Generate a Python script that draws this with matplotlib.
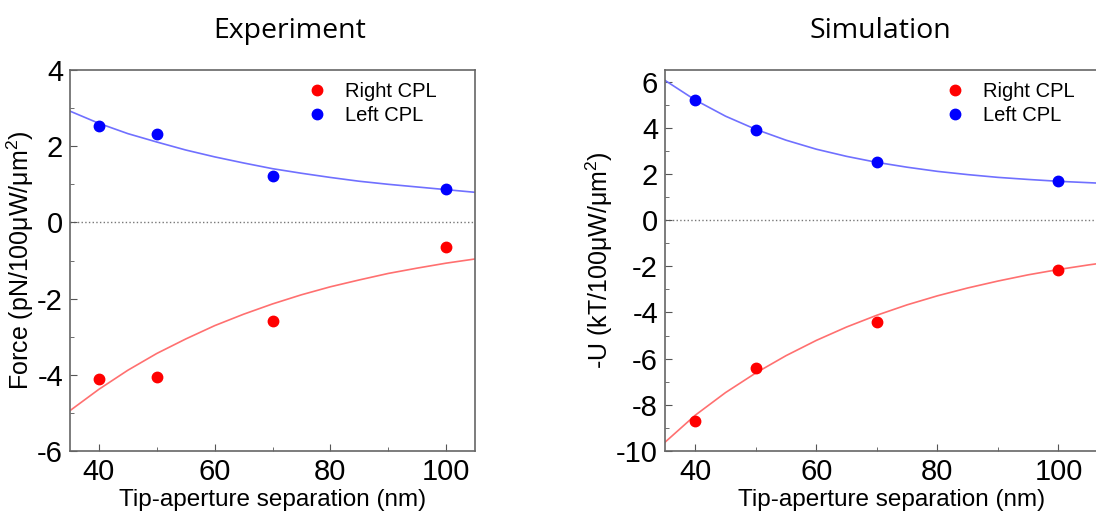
import matplotlib.pyplot as plt
from matplotlib.ticker import MultipleLocator

plt.rcParams['font.family'] = ['Liberation Sans', 'DejaVu Sans']
plt.rcParams['mathtext.fontset'] = 'custom'
plt.rcParams['mathtext.rm'] = 'Liberation Sans'
plt.rcParams['axes.unicode_minus'] = False

sep = [40, 50, 70, 100]

# Experiment
exp_right = [-4.10, -4.07, -2.60, -0.65]
exp_left = [2.53, 2.33, 1.21, 0.87]

# Simulation
sim_right = [-8.71, -6.40, -4.40, -2.16]
sim_left = [5.21, 3.89, 2.50, 1.68]

# fitted curves
fit_x = [35, 40, 45, 50, 55, 60, 65, 70, 75, 80, 85, 90, 95, 100, 105, 110]
exp_left_fit = [2.92, 2.60, 2.33, 2.11, 1.90, 1.72, 1.56, 1.41, 1.29, 1.18, 1.08, 1.00, 0.93, 0.86, 0.79, 0.74]
exp_right_fit = [-4.94, -4.38, -3.88, -3.44, -3.06, -2.71, -2.41, -2.14, -1.90, -1.69, -1.51, -1.34, -1.20, -1.07, -0.96, -0.87]
sim_left_fit = [6.05, 5.20, 4.50, 3.93, 3.46, 3.07, 2.76, 2.50, 2.29, 2.11, 1.97, 1.85, 1.76, 1.68, 1.62, 1.56]
sim_right_fit = [-9.62, -8.45, -7.47, -6.62, -5.87, -5.21, -4.63, -4.12, -3.67, -3.28, -2.94, -2.64, -2.37, -2.14, -1.94, -1.76]

fig = plt.figure(figsize=(10.96, 5.18), dpi=100)
ax1 = fig.add_axes([70/1096, 67/518, 405/1096, 381/518])
ax2 = fig.add_axes([665/1096, 67/518, 454/1096, 381/518])

panels = [
    (ax1, exp_right, exp_left, exp_right_fit, exp_left_fit, (-6, 4), 'Force (pN/100μW/μm$^2$)', 'Experiment', 35, 105, 0.543),
    (ax2, sim_right, sim_left, sim_right_fit, sim_left_fit, (-10, 6.5), '-U (kT/100μW/μm$^2$)', 'Simulation', 35, 110, 0.474),
]

for ax, r, l, rf, lf, yl, ylab, title, x0, x1, tx in panels:
    ax.axhline(0, color='#777777', ls=':', lw=1.0, zorder=1)
    ax.plot(fit_x, rf, color='#ff7070', lw=1.2, zorder=2)
    ax.plot(fit_x, lf, color='#7070ff', lw=1.2, zorder=2)
    ax.plot(sep, r, 'o', color='#ff0000', ms=7.5, label='Right CPL', zorder=3)
    ax.plot(sep, l, 'o', color='#0000ff', ms=7.5, label='Left CPL', zorder=3)
    ax.set_xlim(x0, x1)
    ax.set_ylim(*yl)
    ax.xaxis.set_major_locator(MultipleLocator(20))
    ax.xaxis.set_minor_locator(MultipleLocator(10))
    ax.yaxis.set_major_locator(MultipleLocator(2))
    ax.yaxis.set_minor_locator(MultipleLocator(1))
    ax.tick_params(which='both', direction='in', color='#555555', labelsize=21, pad=5)
    ax.tick_params(which='major', length=5)
    ax.tick_params(which='minor', length=3)
    for s in ax.spines.values():
        s.set_color('#666666')
        s.set_linewidth(1.2)
    ax.set_xlabel('Tip-aperture separation (nm)', fontsize=17.5, labelpad=2)
    ax.set_ylabel(ylab, fontsize=18, labelpad=1)
    ax.text(tx, 1.065, title, transform=ax.transAxes, ha='center', va='bottom',
            fontsize=20.5, family=['Open Sans', 'DejaVu Sans'])

ax1.legend(loc='upper left', bbox_to_anchor=(0.535, 1.015), frameon=False, fontsize=14.5,
           handletextpad=0.8, handlelength=1.2, labelspacing=0.25)
ax2.legend(loc='upper left', bbox_to_anchor=(0.572, 1.015), frameon=False, fontsize=14.5,
           handletextpad=0.8, handlelength=1.2, labelspacing=0.25)

plt.savefig('out.png', dpi=100)
